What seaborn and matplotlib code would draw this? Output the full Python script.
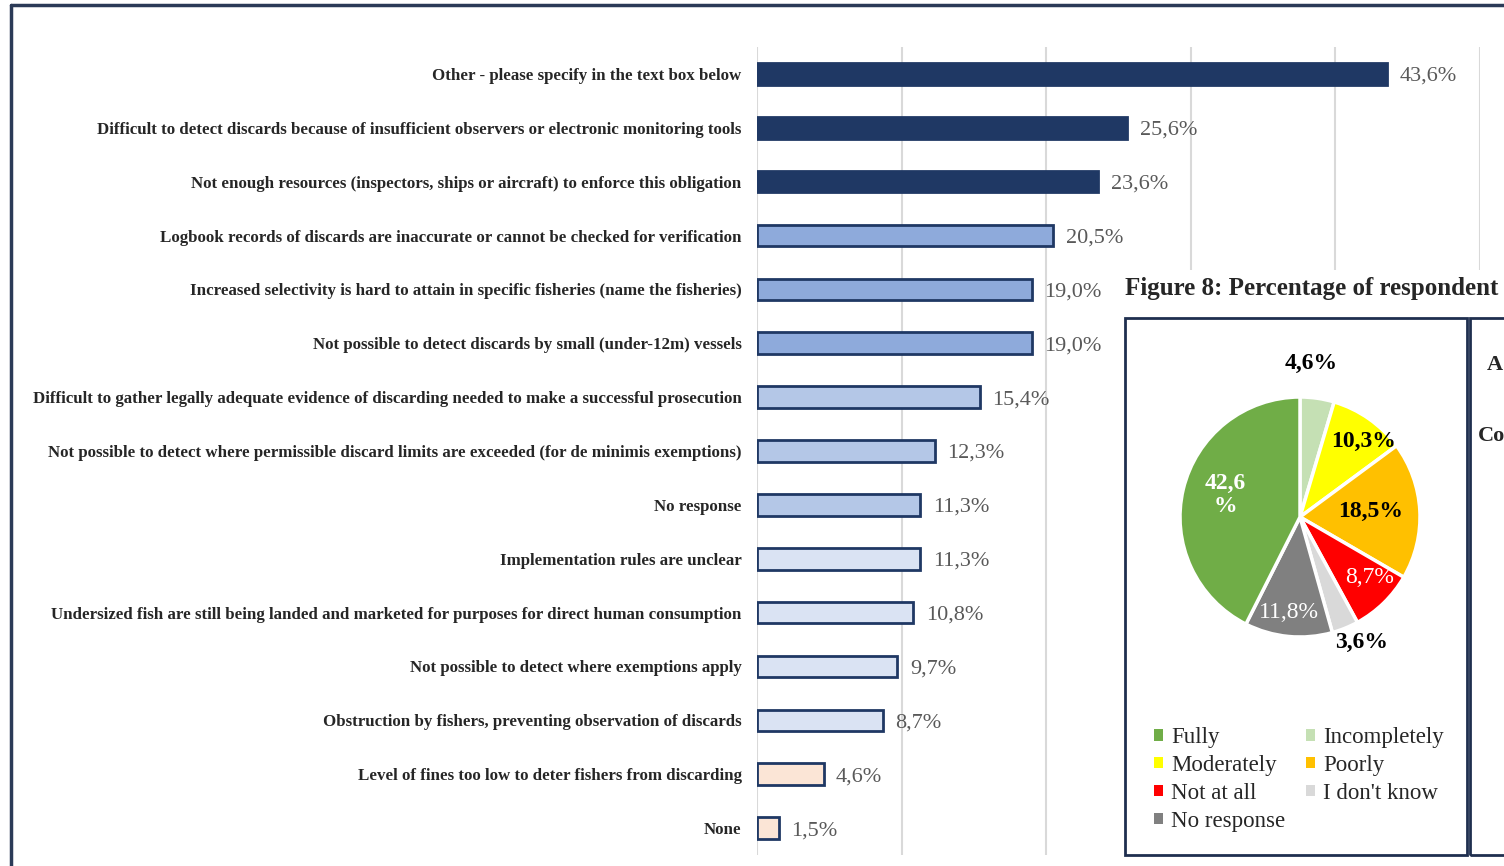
import matplotlib
matplotlib.use("Agg")
import matplotlib.pyplot as plt
import seaborn as sns
import pandas as pd
import numpy as np
from matplotlib.patches import Rectangle, Patch
from matplotlib.lines import Line2D

# --- data: reasons (bar chart) ---
reasons = [
    "Other - please specify in the text box below",
    "Difficult to detect discards because of insufficient observers or electronic monitoring tools",
    "Not enough resources (inspectors, ships or aircraft) to enforce this obligation",
    "Logbook records of discards are inaccurate or cannot be checked for verification",
    "Increased selectivity is hard to attain in specific fisheries (name the fisheries)",
    "Not possible to detect discards by small (under-12m) vessels",
    "Difficult to gather legally adequate evidence of discarding needed to make a successful prosecution",
    "Not possible to detect where permissible discard limits are exceeded (for de minimis exemptions)",
    "No response",
    "Implementation rules are unclear",
    "Undersized fish are still being landed and marketed for purposes for direct human consumption",
    "Not possible to detect where exemptions apply",
    "Obstruction by fishers, preventing observation of discards",
    "Level of fines too low to deter fishers from discarding",
    "None",
]
shares = [43.6, 25.6, 23.6, 20.5, 19.0, 19.0, 15.4, 12.3, 11.3, 11.3, 10.8, 9.7, 8.7, 4.6, 1.5]

# --- data: Figure 8 pie (drawing order, clockwise from 12 o'clock) ---
pie_names = ["Incompletely", "Moderately", "Poorly", "Not at all", "I don't know", "No response", "Fully"]
pie_values = [4.6, 10.3, 18.5, 8.7, 3.6, 11.8, 42.6]
legend_order = ["Fully", "Moderately", "Not at all", "No response", "Incompletely", "Poorly", "I don't know"]

# --- styles ---
NAVY = "#1f3864"
bar_palette = [NAVY] * 3 + ["#8eaadb"] * 3 + ["#b4c7e7"] * 3 + ["#dae3f3"] * 4 + ["#fbe5d6"] * 2
pie_palette = {"Fully": "#70ad47", "Incompletely": "#c5e0b4", "Moderately": "#ffff00",
               "Poorly": "#ffc000", "Not at all": "#ff0000", "I don't know": "#d9d9d9",
               "No response": "#808080"}
label_radius = [1.28, 0.82, 0.59, 0.77, 1.16, 0.80, 0.65]
label_shift = [4, -5, 1, 5, 4, -1, -3]  # degrees from the wedge middle
label_color = ["black", "black", "black", "white", "black", "white", "white"]
label_weight = ["bold", "bold", "bold", "normal", "bold", "normal", "bold"]

sns.set_style("white")
plt.rcParams["font.family"] = ["Liberation Serif", "DejaVu Serif"]

W, H = 1504, 866
fx = lambda x: x / W
fy = lambda y: 1 - y / H

fig = plt.figure(figsize=(W / 100, H / 100), dpi=100)

# bar chart
ax = fig.add_axes([fx(757), fy(855), (1480 - 757) / W, (855 - 47) / H])
df = pd.DataFrame({"reason": reasons, "share": shares})
sns.barplot(data=df, x="share", y="reason", hue="reason", palette=bar_palette,
            saturation=1, legend=False, width=0.4, edgecolor=NAVY, linewidth=2, ax=ax)
ax.set_xlim(0, 50)
ax.set_xticks(range(0, 51, 10))
ax.tick_params(axis="x", length=0, labelbottom=False)
ax.tick_params(axis="y", length=0, pad=11)
ax.grid(axis="x", color="#d9d9d9", lw=1.5)
ax.set_axisbelow(True)
for s in ax.spines.values():
    s.set_visible(False)
ax.set_xlabel("")
ax.set_ylabel("")
for lab in ax.get_yticklabels():
    lab.set_fontweight("bold")
    lab.set_fontsize(12.2)
for c in ax.containers:
    for t in ax.bar_label(c, fmt=lambda v: f"{v:.1f}%".replace(".", ","), padding=9,
                          color="#595959", fontsize=16):
        t.set_verticalalignment("center_baseline")

# white panel of the overlapping Figure 8
fig.add_artist(Rectangle((fx(1112), 0), 1, fy(270), transform=fig.transFigure,
                         facecolor="white", edgecolor="none", zorder=1))
fig.text(fx(1125), fy(289), "Figure 8: Percentage of respondent", fontsize=18,
         fontweight="bold", va="center", zorder=2)
fig.add_artist(Rectangle((fx(1125), fy(855)), (1467 - 1125) / W, (855 - 318) / H,
                         transform=fig.transFigure, fill=False, edgecolor="#1f2f4f",
                         lw=2, zorder=3))
fig.add_artist(Rectangle((fx(1470), fy(855)), 0.1, (855 - 318) / H,
                         transform=fig.transFigure, fill=False, edgecolor="#1f2f4f",
                         lw=2, zorder=3))
fig.text(fx(1487), fy(365), "A", fontsize=16, fontweight="bold", va="center", zorder=2)
fig.text(fx(1478), fy(436), "Co", fontsize=16, fontweight="bold", va="center", zorder=2)

# pie
pax = fig.add_axes([fx(1150), fy(667), 300 / W, 300 / H], zorder=4)
wedges, _ = pax.pie(pie_values, colors=[pie_palette[n] for n in pie_names],
                    startangle=90, counterclock=False,
                    wedgeprops=dict(edgecolor="white", linewidth=2.5))
pax.set_xlim(-1.25, 1.25)
pax.set_ylim(-1.25, 1.25)
for i, w in enumerate(wedges):
    ang = np.deg2rad((w.theta1 + w.theta2) / 2 + label_shift[i])
    txt = f"{pie_values[i]:.1f}%".replace(".", ",")
    if pie_values[i] > 40:
        txt = txt.replace("%", "\n%")
    pax.text(label_radius[i] * np.cos(ang), label_radius[i] * np.sin(ang), txt,
             ha="center", va="center", fontsize=17, color=label_color[i],
             fontweight=label_weight[i], linespacing=1.1)

handles = [Patch(facecolor=pie_palette[n], edgecolor="none") for n in legend_order]
leg = fig.legend(handles, legend_order, ncol=2, loc="upper left",
                 bbox_to_anchor=(fx(1154), fy(727)), frameon=False, fontsize=16.5,
                 handlelength=0.4, handleheight=0.4, handletextpad=0.35,
                 labelspacing=0.3, columnspacing=0.9, borderpad=0, borderaxespad=0)
leg.set_zorder(5)

# outer frame of the page
fig.add_artist(Line2D([fx(11), fx(11)], [fy(5), 0], transform=fig.transFigure,
                      color="#2b3a57", lw=2.5))
fig.add_artist(Line2D([fx(11), 1], [fy(5), fy(5)], transform=fig.transFigure,
                      color="#2b3a57", lw=2.5))

fig.savefig("out.png", dpi=100)
